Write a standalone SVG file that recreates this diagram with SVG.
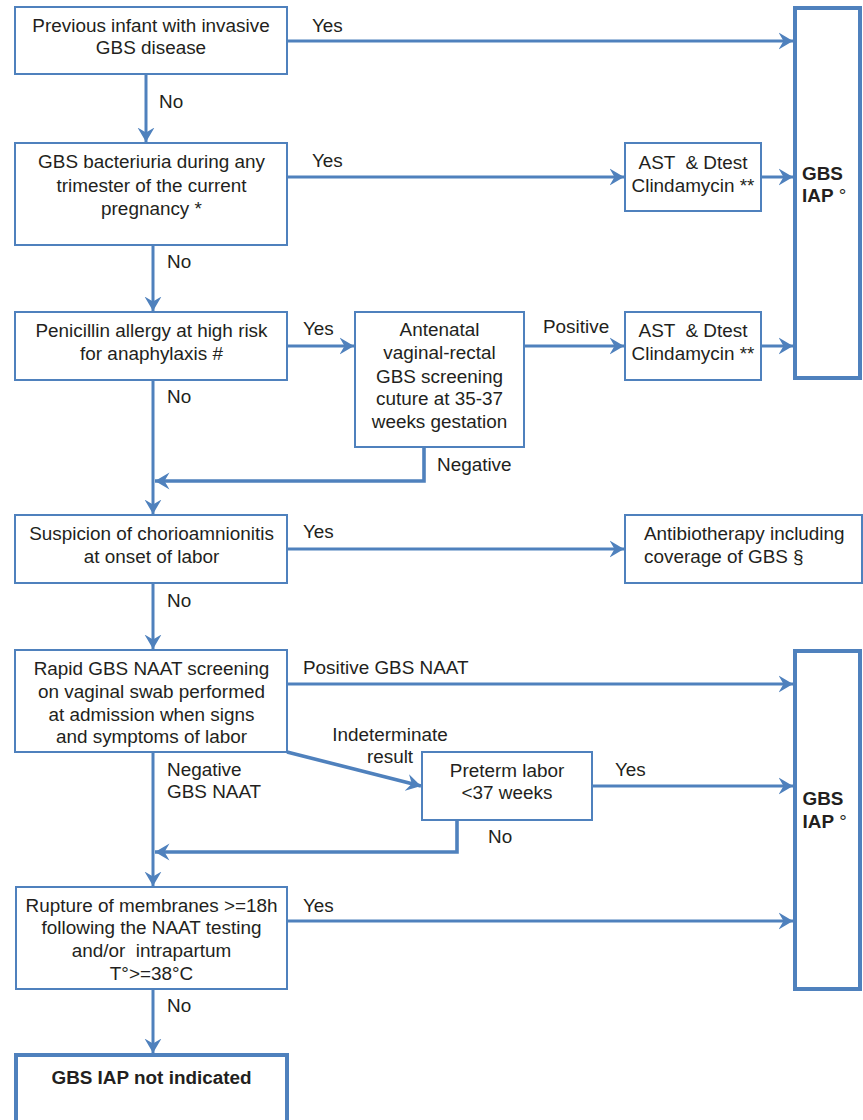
<svg xmlns="http://www.w3.org/2000/svg" width="863" height="1120" viewBox="0 0 863 1120">
<style>
.box{fill:#ffffff;stroke:#4F81BD;stroke-width:2}
.thick{fill:#ffffff;stroke:#4F81BD;stroke-width:4}
.t{font-family:"Liberation Sans",Arial,Helvetica,sans-serif;font-size:18.9px;fill:#231F20}
.c{text-anchor:middle}
.b{font-weight:bold}
.ln{fill:none;stroke:#4F81BD;stroke-width:3}
.lw{fill:none;stroke:#4F81BD;stroke-width:3.6}
</style>
<defs>
<marker id="ah" viewBox="0 -9 15 18" refX="14.5" refY="0" markerWidth="15" markerHeight="18" markerUnits="userSpaceOnUse" orient="auto">
<path d="M0,-8.5 L14.5,0 L0,8.5 L5,0 Z" fill="#4F81BD"/>
</marker>
</defs>
<rect width="863" height="1120" fill="#ffffff"/>

<g id="connectors">
<line class="ln" x1="287" y1="41" x2="793" y2="41" marker-end="url(#ah)"/>
<line class="ln" x1="146" y1="74" x2="146" y2="142" marker-end="url(#ah)"/>
<line class="ln" x1="287" y1="177" x2="624" y2="177" marker-end="url(#ah)"/>
<line class="ln" x1="761" y1="177" x2="793" y2="177" marker-end="url(#ah)"/>
<line class="ln" x1="153" y1="245" x2="153" y2="311" marker-end="url(#ah)"/>
<line class="ln" x1="287" y1="346" x2="354" y2="346" marker-end="url(#ah)"/>
<line class="ln" x1="524" y1="346" x2="624" y2="346" marker-end="url(#ah)"/>
<line class="ln" x1="761" y1="346" x2="793" y2="346" marker-end="url(#ah)"/>
<line class="ln" x1="153" y1="380" x2="153" y2="514" marker-end="url(#ah)"/>
<path class="lw" d="M424,447 V481 H155" marker-end="url(#ah)"/>
<line class="ln" x1="287" y1="549" x2="624" y2="549" marker-end="url(#ah)"/>
<line class="ln" x1="153" y1="583" x2="153" y2="649" marker-end="url(#ah)"/>
<line class="ln" x1="287" y1="684" x2="793" y2="684" marker-end="url(#ah)"/>
<line class="lw" x1="287" y1="752" x2="421" y2="786" marker-end="url(#ah)"/>
<line class="ln" x1="592" y1="786" x2="793" y2="786" marker-end="url(#ah)"/>
<path class="lw" d="M457,820 V852 H155" marker-end="url(#ah)"/>
<line class="ln" x1="153" y1="752" x2="153" y2="886" marker-end="url(#ah)"/>
<line class="ln" x1="287" y1="921" x2="793" y2="921" marker-end="url(#ah)"/>
<line class="ln" x1="153" y1="989" x2="153" y2="1053" marker-end="url(#ah)"/>
</g>

<g id="labels">
<text class="t" x="312" y="32">Yes</text>
<text class="t" x="159" y="108">No</text>
<text class="t" x="312" y="167">Yes</text>
<text class="t" x="167" y="268">No</text>
<text class="t" x="303" y="335">Yes</text>
<text class="t" x="543" y="333">Positive</text>
<text class="t" x="167" y="403">No</text>
<text class="t" x="437" y="471">Negative</text>
<text class="t" x="303" y="538">Yes</text>
<text class="t" x="167" y="607">No</text>
<text class="t" x="303" y="674">Positive GBS NAAT</text>
<text class="t c" x="390" y="741">Indeterminate</text>
<text class="t c" x="390" y="763">result</text>
<text class="t" x="167" y="776">Negative</text>
<text class="t" x="167" y="798">GBS NAAT</text>
<text class="t" x="615" y="776">Yes</text>
<text class="t" x="488" y="843">No</text>
<text class="t" x="303" y="912">Yes</text>
<text class="t" x="167" y="1012">No</text>
</g>

<g id="n1">
<rect class="box" x="15" y="7" width="272" height="67"/>
<text class="t c" x="151" y="31.5">Previous infant with invasive</text>
<text class="t c" x="151" y="54">GBS disease</text>
</g>

<g id="n2">
<rect class="box" x="15" y="143" width="272" height="102"/>
<text class="t c" x="151.5" y="168">GBS bacteriuria during any</text>
<text class="t c" x="151.5" y="191.5">trimester of the current</text>
<text class="t c" x="151.5" y="215">pregnancy *</text>
</g>

<g id="n_ast1">
<rect class="box" x="625" y="143" width="136" height="68"/>
<text class="t c" x="693" y="169" xml:space="preserve">AST  &amp; Dtest</text>
<text class="t c" x="693" y="192">Clindamycin **</text>
</g>

<g id="n_iap1">
<rect class="thick" x="795" y="8" width="65" height="370"/>
<text class="t b" x="802" y="180">GBS</text>
<text class="t" x="802" y="202"><tspan class="b">IAP</tspan> °</text>
</g>

<g id="n3">
<rect class="box" x="15" y="312" width="272" height="68"/>
<text class="t c" x="151.5" y="337">Penicillin allergy at high risk</text>
<text class="t c" x="151.5" y="360">for anaphylaxis #</text>
</g>

<g id="n_screen">
<rect class="box" x="355" y="312" width="169" height="135"/>
<text class="t c" x="439.5" y="336">Antenatal</text>
<text class="t c" x="439.5" y="359.3">vaginal-rectal</text>
<text class="t c" x="439.5" y="382.6">GBS screening</text>
<text class="t c" x="439.5" y="405">cuture at 35-37</text>
<text class="t c" x="439.5" y="428">weeks gestation</text>
</g>

<g id="n_ast2">
<rect class="box" x="625" y="312" width="136" height="68"/>
<text class="t c" x="693" y="337" xml:space="preserve">AST  &amp; Dtest</text>
<text class="t c" x="693" y="360">Clindamycin **</text>
</g>

<g id="n4">
<rect class="box" x="15" y="515" width="272" height="68"/>
<text class="t c" x="151.5" y="540">Suspicion of chorioamnionitis</text>
<text class="t c" x="151.5" y="563">at onset of labor</text>
</g>

<g id="n_abx">
<rect class="box" x="625" y="515" width="237" height="68"/>
<text class="t" x="644" y="540">Antibiotherapy including</text>
<text class="t" x="644" y="562.7">coverage of GBS §</text>
</g>

<g id="n5">
<rect class="box" x="15" y="650" width="272" height="102"/>
<text class="t c" x="151.5" y="675">Rapid GBS NAAT screening</text>
<text class="t c" x="151.5" y="697.7">on vaginal swab performed</text>
<text class="t c" x="151.5" y="720.5">at admission when signs</text>
<text class="t c" x="151.5" y="743.3">and symptoms of labor</text>
</g>

<g id="n_preterm">
<rect class="box" x="422" y="752" width="170" height="68"/>
<text class="t c" x="507" y="776.7">Preterm labor</text>
<text class="t c" x="507" y="799.3">&lt;37 weeks</text>
</g>

<g id="n_iap2">
<rect class="thick" x="795" y="651" width="65" height="338"/>
<text class="t b" x="802.5" y="805">GBS</text>
<text class="t" x="802.5" y="828"><tspan class="b">IAP</tspan> °</text>
</g>

<g id="n6">
<rect class="box" x="16" y="887" width="271" height="102"/>
<text class="t c" x="151.5" y="911.7">Rupture of membranes &gt;=18h</text>
<text class="t c" x="151.5" y="934">following the NAAT testing</text>
<text class="t c" x="151.5" y="957.3" xml:space="preserve">and/or  intrapartum</text>
<text class="t c" x="151.5" y="980">T°&gt;=38°C</text>
</g>

<g id="n_final">
<rect class="thick" x="16" y="1055" width="271" height="80"/>
<text class="t c b" x="151.5" y="1084">GBS IAP not indicated</text>
</g>
</svg>
